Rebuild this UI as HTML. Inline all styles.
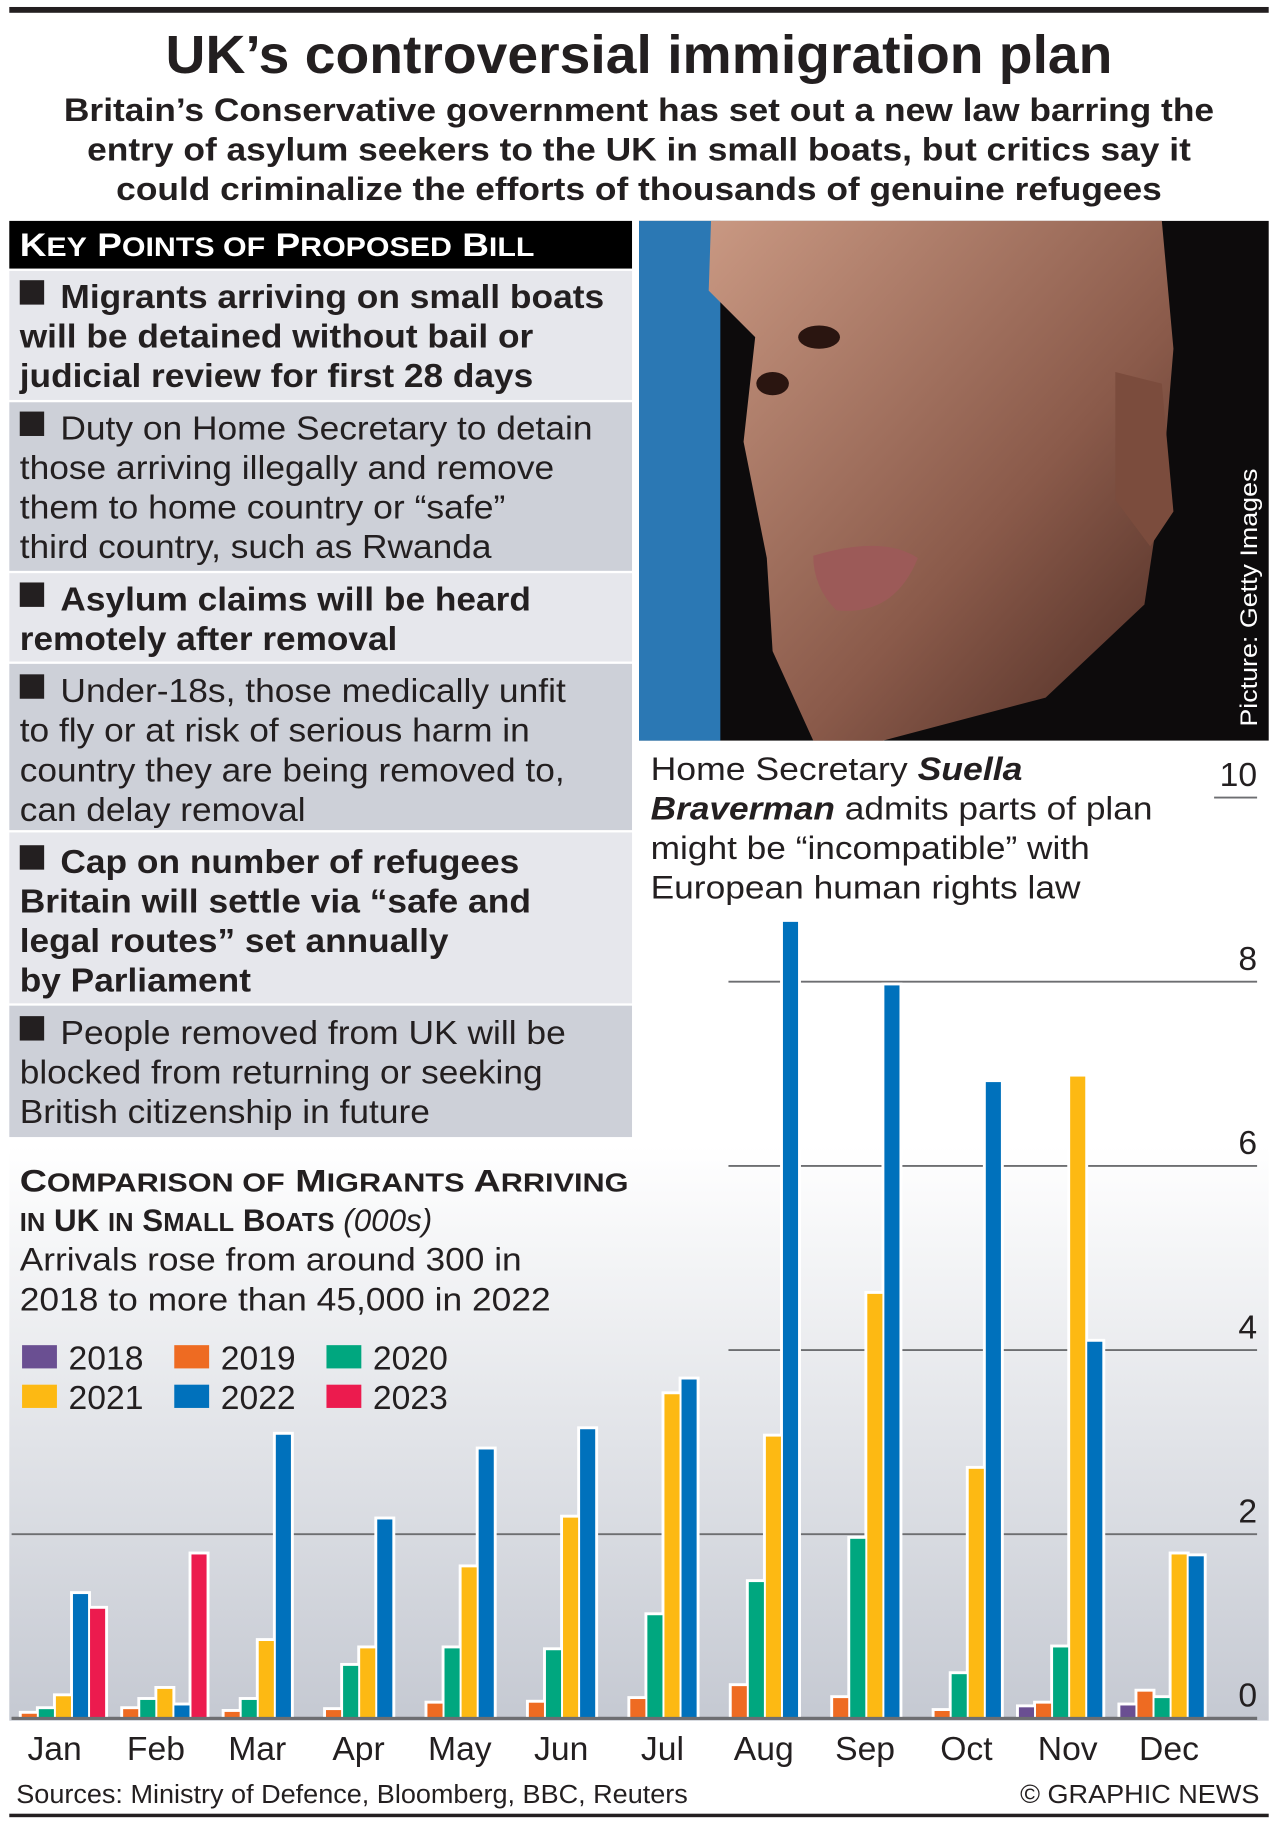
<!DOCTYPE html>
<html><head><meta charset="utf-8"><style>
html,body{margin:0;padding:0;background:#fff}
svg{display:block}
text{font-family:"Liberation Sans",Arial,sans-serif;fill:#231f20}
.b{font-weight:bold}
</style></head><body>
<svg id="root" width="1278" height="1823" viewBox="0 0 1100 1568" preserveAspectRatio="none" xmlns="http://www.w3.org/2000/svg">
<defs>
<linearGradient id="bg" x1="0" y1="0" x2="0" y2="1">
<stop offset="0" stop-color="#ffffff"/><stop offset="1" stop-color="#c5c9d2"/>
</linearGradient>
<linearGradient id="skin" x1="0" y1="0" x2="1" y2="1">
<stop offset="0" stop-color="#c99882"/><stop offset="0.6" stop-color="#8a5a4a"/><stop offset="1" stop-color="#4a2a22"/>
</linearGradient>
</defs>
<rect x="0" y="0" width="1100" height="1568" fill="#fff"/>
<rect x="8" y="985" width="1084" height="495" fill="url(#bg)"/>
<rect x="8" y="6" width="1084" height="5" fill="#231f20"/>
<text class="b" x="550" y="63" font-size="46" text-anchor="middle" textLength="815" lengthAdjust="spacingAndGlyphs">UK’s controversial immigration plan</text>
<g class="b" font-size="28" text-anchor="middle">
<text class="b" x="550" y="104" textLength="990" lengthAdjust="spacingAndGlyphs">Britain’s Conservative government has set out a new law barring the</text>
<text class="b" x="550" y="138" textLength="950" lengthAdjust="spacingAndGlyphs">entry of asylum seekers to the UK in small boats, but critics say it</text>
<text class="b" x="550" y="172" textLength="900" lengthAdjust="spacingAndGlyphs">could criminalize the efforts of thousands of genuine refugees</text>
</g>

<g>
<rect x="8" y="190" width="536" height="41" fill="#000"/>
<text class="b" x="17" y="220" font-size="28" style="fill:#fff" textLength="443" lengthAdjust="spacingAndGlyphs">K<tspan font-size="23">EY</tspan> P<tspan font-size="23">OINTS OF</tspan> P<tspan font-size="23">ROPOSED</tspan> B<tspan font-size="23">ILL</tspan></text>
<rect x="8" y="233" width="536" height="111" fill="#e6e7ec"/>
<rect x="8" y="346" width="536" height="145" fill="#cdd0d8"/>
<rect x="8" y="493" width="536" height="76" fill="#e6e7ec"/>
<rect x="8" y="571" width="536" height="143" fill="#cdd0d8"/>
<rect x="8" y="716" width="536" height="147" fill="#e6e7ec"/>
<rect x="8" y="865" width="536" height="113" fill="#cdd0d8"/>
<g fill="#231f20">
<rect x="17" y="241" width="21" height="21"/><rect x="17" y="354" width="21" height="21"/>
<rect x="17" y="501" width="21" height="21"/><rect x="17" y="580" width="21" height="21"/>
<rect x="17" y="727" width="21" height="21"/><rect x="17" y="874" width="21" height="21"/>
</g>
<g font-size="29">
<text class="b" x="52" y="265" textLength="468" lengthAdjust="spacingAndGlyphs">Migrants arriving on small boats</text>
<text class="b" x="17" y="299" textLength="442" lengthAdjust="spacingAndGlyphs">will be detained without bail or</text>
<text class="b" x="17" y="333" textLength="442" lengthAdjust="spacingAndGlyphs">judicial review for first 28 days</text>
<text x="52" y="378" textLength="458" lengthAdjust="spacingAndGlyphs">Duty on Home Secretary to detain</text>
<text x="17" y="412" textLength="460" lengthAdjust="spacingAndGlyphs">those arriving illegally and remove</text>
<text x="17" y="446" textLength="418" lengthAdjust="spacingAndGlyphs">them to home country or “safe”</text>
<text x="17" y="480" textLength="406" lengthAdjust="spacingAndGlyphs">third country, such as Rwanda</text>
<text class="b" x="52" y="525" textLength="405" lengthAdjust="spacingAndGlyphs">Asylum claims will be heard</text>
<text class="b" x="17" y="559" textLength="325" lengthAdjust="spacingAndGlyphs">remotely after removal</text>
<text x="52" y="604" textLength="435" lengthAdjust="spacingAndGlyphs">Under-18s, those medically unfit</text>
<text x="17" y="638" textLength="439" lengthAdjust="spacingAndGlyphs">to fly or at risk of serious harm in</text>
<text x="17" y="672" textLength="469" lengthAdjust="spacingAndGlyphs">country they are being removed to,</text>
<text x="17" y="706" textLength="246" lengthAdjust="spacingAndGlyphs">can delay removal</text>
<text class="b" x="52" y="751" textLength="395" lengthAdjust="spacingAndGlyphs">Cap on number of refugees</text>
<text class="b" x="17" y="785" textLength="440" lengthAdjust="spacingAndGlyphs">Britain will settle via “safe and</text>
<text class="b" x="17" y="819" textLength="369" lengthAdjust="spacingAndGlyphs">legal routes” set annually</text>
<text class="b" x="17" y="853" textLength="199" lengthAdjust="spacingAndGlyphs">by Parliament</text>
<text x="52" y="898" textLength="435" lengthAdjust="spacingAndGlyphs">People removed from UK will be</text>
<text x="17" y="932" textLength="450" lengthAdjust="spacingAndGlyphs">blocked from returning or seeking</text>
<text x="17" y="966" textLength="353" lengthAdjust="spacingAndGlyphs">British citizenship in future</text>
</g>
</g>

<g>
<rect x="550" y="190" width="542" height="447" fill="#0d0b0c"/>
<rect x="550" y="190" width="70" height="447" fill="#2b78b4"/>
<path d="M612 190 L1000 190 L1010 300 L1000 420 L985 520 L900 600 L760 637 L700 637 L665 560 L660 480 L640 380 L650 290 L610 250 Z" fill="url(#skin)"/>
<path d="M960 320 L1000 330 L1010 440 L990 470 L960 430 Z" fill="#7b4c3d"/>
<ellipse cx="705" cy="290" rx="18" ry="10" fill="#2a1510"/><ellipse cx="665" cy="330" rx="14" ry="10" fill="#2a1510"/>
<path d="M700 478 Q760 460 790 480 Q770 530 720 525 Q700 505 700 478Z" fill="#9c5a58"/>
<text x="0" y="0" font-size="21" style="fill:#fff" transform="translate(1082 625) rotate(-90)" textLength="222" lengthAdjust="spacingAndGlyphs">Picture: Getty Images</text>
</g>

<g font-size="28">
<text x="560" y="671" textLength="320" lengthAdjust="spacingAndGlyphs">Home Secretary <tspan class="b" font-style="italic">Suella</tspan></text>
<text x="560" y="705" textLength="432" lengthAdjust="spacingAndGlyphs"><tspan class="b" font-style="italic">Braverman</tspan> admits parts of plan</text>
<text x="560" y="739" textLength="378" lengthAdjust="spacingAndGlyphs">might be “incompatible” with</text>
<text x="560" y="773" textLength="370" lengthAdjust="spacingAndGlyphs">European human rights law</text>
</g>

<g>
<text class="b" x="17" y="1025" font-size="27" textLength="524" lengthAdjust="spacingAndGlyphs">C<tspan font-size="22">OMPARISON OF</tspan> M<tspan font-size="22">IGRANTS</tspan> A<tspan font-size="22">RRIVING</tspan></text>
<text x="17" y="1059" font-size="27"><tspan class="b" font-size="22">IN</tspan><tspan class="b"> UK </tspan><tspan class="b" font-size="22">IN</tspan><tspan class="b"> S</tspan><tspan class="b" font-size="22">MALL</tspan><tspan class="b"> B</tspan><tspan class="b" font-size="22">OATS</tspan> <tspan font-style="italic">(000s)</tspan></text>
<text x="17" y="1093" font-size="28" textLength="432" lengthAdjust="spacingAndGlyphs">Arrivals rose from around 300 in</text>
<text x="17" y="1127" font-size="28" textLength="457" lengthAdjust="spacingAndGlyphs">2018 to more than 45,000 in 2022</text>
</g>
<g id="legend"></g>
<g id="grid"></g>
<g id="bars"></g>
<g id="xlabels"></g>
<g id="ylabels"></g>

<text x="14" y="1551" font-size="22" textLength="578" lengthAdjust="spacingAndGlyphs">Sources: Ministry of Defence, Bloomberg, BBC, Reuters</text>
<text x="1084" y="1551" font-size="22" text-anchor="end" textLength="206" lengthAdjust="spacingAndGlyphs">© GRAPHIC NEWS</text>
<rect x="8" y="1560" width="1084" height="3" fill="#231f20"/>
</svg>
<script>
const months = ["Jan","Feb","Mar","Apr","May","Jun","Jul","Aug","Sep","Oct","Nov","Dec"];
const years = ["2018","2019","2020","2021","2022","2023"];
const colors = ["#6a4f92","#ee6b22","#00a77f","#fdb913","#0071bc","#ec1b4e"];
const v2018 = [0,0,0,0,0,0,0,0,0,0,0.12,0.14];
const v2019 = [0.05,0.1,0.07,0.09,0.16,0.17,0.21,0.35,0.22,0.08,0.16,0.29];
const v2020 = [0.1,0.2,0.2,0.57,0.76,0.74,1.12,1.48,1.95,0.48,0.77,0.22];
const v2021 = [0.24,0.32,0.84,0.76,1.64,2.18,3.52,3.06,4.61,2.71,6.97,1.78];
const v2022 = [1.35,0.14,3.08,2.16,2.92,3.14,3.68,8.65,7.96,6.91,4.09,1.76];
const v2023 = [1.19,1.78,null,null,null,null,null,null,null,null,null,null];
const yTicks = [0,2,4,6,8,10];
const series = [v2018,v2019,v2020,v2021,v2022,v2023];
const NS = "http://www.w3.org/2000/svg";
const y = v => 1478 - v * 79.2;
const slotX = (m, s) => 4 + m * 87.3 + s * 14.7;
const BW = 13;
function mk(tag, attrs, parent){const e=document.createElementNS(NS,tag);for(const k in attrs)e.setAttribute(k,attrs[k]);parent.appendChild(e);return e;}
const grid=document.getElementById('grid'), bars=document.getElementById('bars'), xl=document.getElementById('xlabels'), yl=document.getElementById('ylabels'), lg=document.getElementById('legend');
const gridStart = {0:10,2:10,4:627,6:627,8:627,10:1045};
yTicks.forEach(t=>{
  const l=mk('line',{x1:gridStart[t],x2:1082,y1:y(t),y2:y(t),stroke:'#6d6e71','stroke-width':t===0?2.5:1.6},grid);
  
  
  const tx=mk('text',{x:1082,y:y(t)-10,'font-size':29,'text-anchor':'end'},yl);
  tx.textContent=t;
  
  
});
series.forEach((arr,s)=>{
  arr.forEach((v,m)=>{
    if(v===null||v<=0) return;
    mk('rect',{x:slotX(m,s)-2.5,y:y(v)-2.5,width:BW+5,height:1478-y(v)+2.5,fill:'#fff'},bars);
  });
});
series.forEach((arr,s)=>{
  arr.forEach((v,m)=>{
    if(v===null||v<=0) return;
    const r=mk('rect',{x:slotX(m,s),y:y(v),width:BW,height:1478-y(v),fill:colors[s]},bars);
    
    
  });
});
mk('line',{x1:10,x2:1082,y1:1478,y2:1478,stroke:'#6d6e71','stroke-width':2.5},bars);
months.forEach((mo,m)=>{
  const t=mk('text',{x:47+m*87.2,y:1514,'font-size':29,'text-anchor':'middle'},xl);
  t.textContent=mo;
  
  
});
years.forEach((yr,i)=>{
  const col=i%3, row=Math.floor(i/3);
  const x=19+col*131, yy=1157+row*34;
  const g=mk('g',{},lg);
  
  
  mk('rect',{x:x,y:yy,width:30,height:20,fill:colors[i]},g);
  const t=mk('text',{x:x+40,y:yy+21,'font-size':29},g);
  t.textContent=yr;
});
</script>
</body></html>
